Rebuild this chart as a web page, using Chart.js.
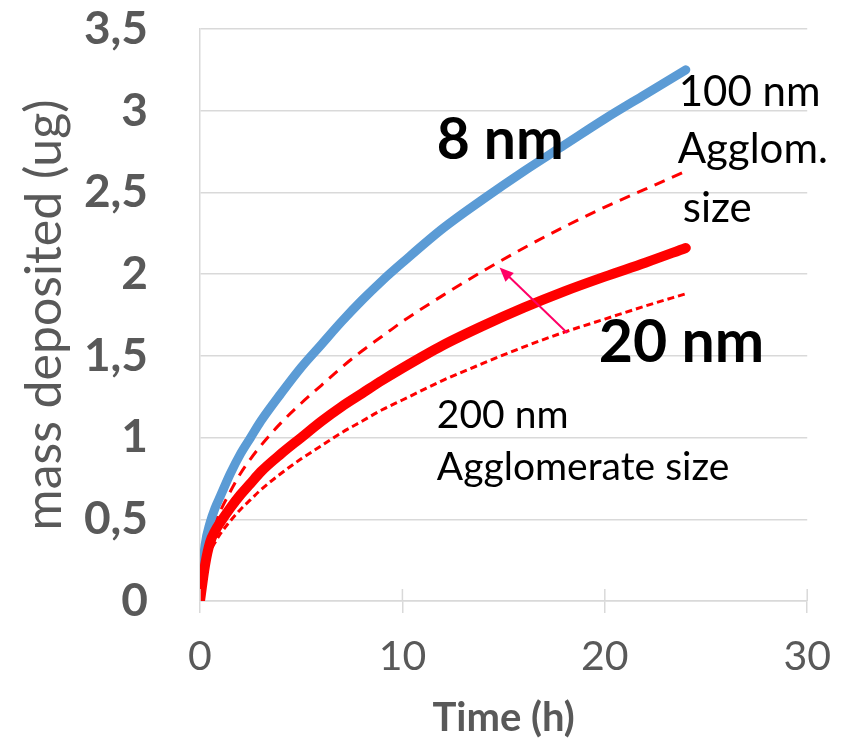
<!DOCTYPE html>
<html>
<head>
<meta charset="utf-8">
<script src="https://cdn.jsdelivr.net/npm/chart.js@4/dist/chart.umd.min.js"></script>
<style>
  html, body { margin: 0; padding: 0; background: #fff; }
  #wrap { width: 850px; height: 738px; }
</style>
</head>
<body>
<div id="wrap"><canvas id="massChart"></canvas></div>
<script>
// time axis (h)
const hours = [0, 0.25, 0.5, 0.75, 1, 1.5, 2, 2.5, 3, 4, 5, 6, 7, 8, 9, 10, 12, 14, 16, 18, 20, 22, 24]

// mass deposited (ug)
const mass8nm = [0, 0.34, 0.48, 0.57, 0.64, 0.78, 0.90, 1.00, 1.10, 1.27, 1.43, 1.57, 1.71, 1.84, 1.96, 2.07, 2.28, 2.46, 2.63, 2.79, 2.95, 3.10, 3.25]
const mass20nm = [0, 0.22, 0.36, 0.43, 0.48, 0.57, 0.65, 0.72, 0.79, 0.90, 1.00, 1.10, 1.19, 1.27, 1.35, 1.425, 1.565, 1.685, 1.795, 1.895, 1.985, 2.07, 2.16]
const mass20nmAgg100 = [0, 0.26, 0.40, 0.48, 0.55, 0.67, 0.78, 0.87, 0.95, 1.09, 1.21, 1.32, 1.43, 1.53, 1.62, 1.71, 1.87, 2.02, 2.16, 2.29, 2.41, 2.52, 2.63]
const mass20nmAgg200 = [0, 0.20, 0.30, 0.36, 0.41, 0.49, 0.56, 0.62, 0.68, 0.78, 0.87, 0.95, 1.03, 1.10, 1.17, 1.23, 1.35, 1.455, 1.555, 1.645, 1.725, 1.805, 1.88]

const xTicks = [0, 10, 20, 30]

// text notes, placed in data units: [text, x, y, bold, size]
const notes = [
    ['8 nm', 11.7, 2.82, true, 57],
    ['20 nm', 19.7, 1.58, true, 59],
    ['100 nm', 23.65, 3.11, false, 42],
    ['Agglom.', 23.6, 2.76, false, 42],
    ['size', 23.85, 2.405, false, 42],
    ['200 nm', 11.7, 1.135, false, 39],
    ['Agglomerate size', 11.7, 0.82, false, 39]
]
// arrow from the 20 nm curve to the 100 nm agglomerate curve
const arrowFrom = [18.15, 1.64]
const arrowTo = [14.8, 2.04]

const GRID = '#d9d9d9'
const AXIS_TEXT = '#595959'

function toPoints(ys) {
    return hours.map((h, i) => ({x: h, y: ys[i]}))
}

const extras = {
    id: 'extras',
    afterDatasetsDraw(chart) {
        const ctx = chart.ctx
        const xs = chart.scales.x
        const ys = chart.scales.y
        const bottom = chart.chartArea.bottom

        // excel style tick marks crossing the axis
        ctx.save()
        ctx.strokeStyle = GRID
        ctx.lineWidth = 1.5
        xTicks.forEach(v => {
            const px = xs.getPixelForValue(v)
            ctx.beginPath()
            ctx.moveTo(px, bottom - 12)
            ctx.lineTo(px, bottom)
            ctx.stroke()
        })

        // arrow
        const x1 = xs.getPixelForValue(arrowFrom[0]), y1 = ys.getPixelForValue(arrowFrom[1])
        const x2 = xs.getPixelForValue(arrowTo[0]), y2 = ys.getPixelForValue(arrowTo[1])
        const ang = Math.atan2(y2 - y1, x2 - x1)
        ctx.strokeStyle = '#ff0066'
        ctx.fillStyle = '#ff0066'
        ctx.lineWidth = 2
        ctx.beginPath()
        ctx.moveTo(x1, y1)
        ctx.lineTo(x2 - 10 * Math.cos(ang), y2 - 10 * Math.sin(ang))
        ctx.stroke()
        ctx.beginPath()
        ctx.moveTo(x2, y2)
        ctx.lineTo(x2 - 14 * Math.cos(ang) + 6 * Math.sin(ang), y2 - 14 * Math.sin(ang) - 6 * Math.cos(ang))
        ctx.lineTo(x2 - 14 * Math.cos(ang) - 6 * Math.sin(ang), y2 - 14 * Math.sin(ang) + 6 * Math.cos(ang))
        ctx.closePath()
        ctx.fill()

        // labels
        ctx.fillStyle = '#000'
        ctx.textAlign = 'left'
        ctx.textBaseline = 'middle'
        notes.forEach(n => {
            ctx.font = (n[3] ? 'bold ' : '') + n[4] + 'px Lato'
            ctx.fillText(n[0], xs.getPixelForValue(n[1]), ys.getPixelForValue(n[2]))
        })
        ctx.restore()
    }
}

const config = {
    type: 'line',
    data: {
        datasets: [
            {
                label: '20 nm',
                data: toPoints(mass20nm),
                borderColor: '#ff0000',
                borderWidth: 10,
                borderCapStyle: 'round'
            },
            {
                label: '8 nm',
                data: toPoints(mass8nm),
                borderColor: '#5b9bd5',
                borderWidth: 9,
                borderCapStyle: 'round'
            },
            {
                label: '100 nm agglomerate',
                data: toPoints(mass20nmAgg100),
                borderColor: '#ff0000',
                borderWidth: 3,
                borderDash: [11, 8]
            },
            {
                label: '200 nm agglomerate',
                data: toPoints(mass20nmAgg200),
                borderColor: '#ff0000',
                borderWidth: 3,
                borderDash: [7, 4]
            }
        ]
    },
    options: {
        responsive: true,
        maintainAspectRatio: false,
        animation: false,
        cubicInterpolationMode: 'monotone',
        elements: {point: {radius: 0}},
        layout: {padding: {left: 0, top: 29, right: 42, bottom: 0}},
        plugins: {
            legend: {display: false},
            tooltip: {enabled: false}
        },
        scales: {
            x: {
                type: 'linear',
                min: 0,
                max: 30,
                afterBuildTicks: s => { s.ticks = xTicks.map(v => ({value: v})) },
                afterFit: s => { s.height = 137 },
                grid: {drawOnChartArea: false, color: GRID, lineWidth: 1.5, tickLength: 12},
                border: {color: GRID, width: 1.5},
                ticks: {color: AXIS_TEXT, font: {family: 'Lato', size: 41}, padding: 19, maxRotation: 0},
                title: {
                    display: true,
                    text: 'Time (h)',
                    color: AXIS_TEXT,
                    font: {family: 'Lato', size: 40, weight: 'bold', lineHeight: 1},
                    padding: {top: 0, bottom: 0}
                }
            },
            y: {
                min: 0,
                max: 3.5,
                afterFit: s => {
                    s.width = 200
                    // the top label may hang over the padding
                    s.paddingTop = 0
                    s.paddingBottom = 0
                },
                grid: {color: GRID, lineWidth: 1.5, drawTicks: false},
                border: {color: GRID, width: 1.5},
                ticks: {
                    stepSize: 0.5,
                    color: AXIS_TEXT,
                    font: {family: 'Lato', size: 46, weight: 'bold'},
                    padding: 52,
                    callback: v => String(v).replace('.', ',')
                },
                title: {
                    display: true,
                    text: 'mass deposited (ug)',
                    color: AXIS_TEXT,
                    font: {family: 'Lato', size: 50},
                    padding: {top: 15, bottom: 0}
                }
            }
        }
    },
    plugins: [extras]
}

new Chart(document.getElementById('massChart'), config)
</script>
</body>
</html>
